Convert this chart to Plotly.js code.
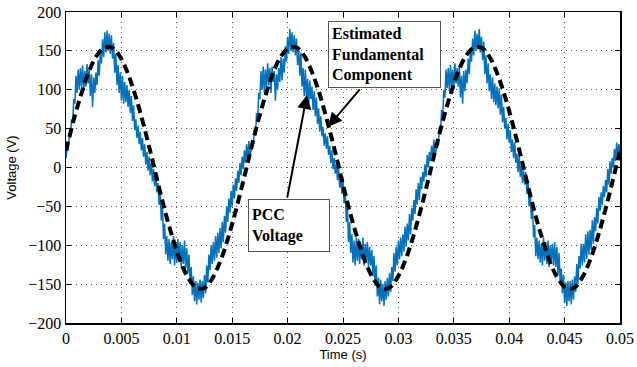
<!DOCTYPE html>
<html>
<head>
<meta charset="utf-8">
<script src="https://cdn.plot.ly/plotly-3.0.1.min.js"></script>
<style>html,body{margin:0;padding:0;background:#fff;}#chart{width:637px;height:367px;}</style>
</head>
<body>
<div id="chart"></div>
<script>
// PCC voltage samples (V), one every 0.1 ms from t = 0 to 0.05 s
const pccStep = 0.0001;
const pccCycle1 = [12,26,22,44,38,62,58,88,82,118,
 96,126,100,128,104,131,98,124,104,133,
 108,126,92,120,78,116,96,122,106,138,
 118,150,134,165,142,174,148,176,150,172,
 146,170,140,160,122,146,106,132,96,122,
 86,118,82,110,84,106,78,100,70,92,
 60,80,48,62,38,54,30,46,22,38,
 14,30,4,20,-4,14,-10,6,-18,-2,
 -24,-8,-32,-20,-48,-30,-68,-50,-92,-72,
 -112,-88,-120,-92,-124,-96,-118,-88,-126,-98,
 -122,-92,-120,-96,-128,-100,-124,-94,-130,-104,
 -136,-112,-150,-128,-164,-140,-172,-146,-176,-148,
 -170,-144,-174,-146,-168,-138,-162,-126,-148,-112,
 -132,-100,-124,-96,-120,-88,-116,-84,-110,-78,
 -104,-70,-96,-62,-84,-50,-70,-40,-58,-30,
 -50,-22,-40,-14,-30,-4,-20,6,-10,14,
 -2,22,6,30,10,34,14];
const pccCycle2 = [20,30,26,50,42,70,62,96,88,124,
 100,130,96,126,102,134,106,128,96,130,
 110,124,86,120,100,128,110,142,112,140,
 122,156,136,168,146,178,150,174,148,170,
 144,166,132,156,118,148,104,128,92,126,
 90,114,80,112,88,104,74,98,66,90,
 56,76,46,66,40,52,28,44,24,40,
 16,28,6,22,-2,12,-8,4,-16,0,
 -26,-10,-34,-18,-46,-28,-70,-52,-96,-70,
 -110,-86,-122,-94,-126,-90,-120,-92,-124,-100,
 -118,-90,-126,-98,-122,-96,-128,-102,-126,-106,
 -140,-114,-152,-126,-166,-142,-176,-144,-172,-150,
 -178,-146,-170,-142,-166,-136,-160,-128,-146,-110,
 -134,-102,-126,-94,-118,-90,-114,-86,-108,-76,
 -102,-72,-94,-60,-86,-52,-68,-42,-60,-28,
 -48,-20,-42,-12,-28,-6,-18,4,-12,16,
 0,20,8,28,12,36,16];
const pccCycle3 = [22,34,28,52,46,74,66,100,90,126,
 102,128,98,132,104,126,100,134,108,128,
 104,130,90,118,82,124,98,126,108,140,
 120,154,136,166,144,176,150,172,152,178,
 148,168,138,162,120,144,108,134,98,120,
 88,116,84,108,80,104,76,102,68,94,
 58,78,50,64,36,56,32,48,20,36,
 12,32,6,18,-6,16,-12,4,-20,-4,
 -22,-6,-34,-18,-50,-32,-66,-48,-90,-74,
 -114,-90,-118,-94,-122,-98,-126,-90,-120,-96,
 -124,-94,-128,-100,-120,-98,-126,-96,-128,-102,
 -138,-110,-148,-130,-162,-138,-174,-148,-178,-146,
 -172,-146,-176,-144,-170,-140,-160,-124,-150,-114,
 -130,-98,-126,-98,-122,-86,-118,-82,-112,-80,
 -106,-68,-98,-64,-82,-52,-72,-38,-56,-32,
 -48,-24,-38,-16,-32,-2,-22,8,-8,12,
 0,24,8,32,12,30,20];

// Estimated fundamental (V), one value every 0.05/72 s (24 per 60 Hz cycle)
const fundStep = 0.05 / 72;
const fundValues = [
 22,61,95,124,144,154,154,143,122,93,58,19,-22,-61,-95,-124,-144,-155,-155,-143,-122,-93,-58,-19,
 22,61,95,124,144,154,154,143,122,93,58,19,-22,-61,-95,-124,-144,-155,-155,-143,-122,-93,-58,-19,
 22,61,95,124,144,154,154,143,122,93,58,19,-22,-61,-95,-124,-144,-155,-155,-143,-122,-93,-58,-19,
 22];

const xTickVals = [0,0.005,0.01,0.015,0.02,0.025,0.03,0.035,0.04,0.045,0.05];
const xTickText = ['0','0.005','0.01','0.015','0.02','0.025','0.03','0.035','0.04','0.045','0.05'];
const yTickVals = [-200,-150,-100,-50,0,50,100,150,200];

const pccValues = pccCycle1.concat(pccCycle2, pccCycle3);
const pccTime = pccValues.map((_, i) => i * pccStep);
const fundTime = fundValues.map((_, i) => i * fundStep);

const traces = [
  {x: pccTime, y: pccValues, type: 'scatter', mode: 'lines', name: 'PCC Voltage',
   line: {color: '#0072BD', width: 1.5}},
  {x: fundTime, y: fundValues, type: 'scatter', mode: 'lines', name: 'Estimated Fundamental Component',
   line: {color: '#000000', width: 4, dash: '9px,5px', shape: 'spline'}}
];

const serif = 'Liberation Serif, Times New Roman, serif';
const sans = 'Liberation Sans, Arial, sans-serif';

const axisCommon = {
  showline: true, linecolor: '#000', linewidth: 1.5, mirror: 'ticks',
  ticks: 'inside', ticklen: 5, tickwidth: 1, tickcolor: '#000',
  showgrid: true, gridcolor: '#555', gridwidth: 1, griddash: '1px,4px',
  zeroline: false, tickfont: {family: serif, size: 16, color: '#000'}
};

const layout = {
  width: 637, height: 367,
  margin: {l: 66, r: 17, t: 12, b: 44},
  paper_bgcolor: '#fff', plot_bgcolor: '#fff',
  showlegend: false,
  xaxis: Object.assign({}, axisCommon, {
    range: [0, 0.05], tickmode: 'array', tickvals: xTickVals, ticktext: xTickText,
    title: {text: 'Time (s)', font: {family: sans, size: 13, color: '#000'}, standoff: 4}
  }),
  yaxis: Object.assign({}, axisCommon, {
    range: [-200, 200], tickmode: 'array', tickvals: yTickVals,
    title: {text: 'Voltage (V)', font: {family: sans, size: 13, color: '#000'}, standoff: 8}
  }),
  annotations: [
    {x: 0.023646, y: 188.4, xref: 'x', yref: 'y', xanchor: 'left', yanchor: 'top',
     text: 'Estimated<br>Fundamental<br>Component', align: 'left', showarrow: false,
     font: {family: serif, size: 16, color: '#000', weight: 'bold'},
     bordercolor: '#555', borderwidth: 1, borderpad: 3, bgcolor: '#fff',
     width: 105, height: 59},
    {x: 0.016426, y: -40.1, xref: 'x', yref: 'y', xanchor: 'left', yanchor: 'top',
     text: 'PCC<br>Voltage', align: 'left', showarrow: false,
     font: {family: serif, size: 16, color: '#000', weight: 'bold'},
     bordercolor: '#555', borderwidth: 1, borderpad: 3, bgcolor: '#fff',
     width: 74, height: 45},
    {x: 0.02365, y: 52.3, xref: 'x', yref: 'y', text: '', showarrow: true,
     ax: 33, ay: -39, arrowhead: 2, arrowsize: 1.4, arrowwidth: 2, arrowcolor: '#000'},
    {x: 0.02175, y: 93.4, xref: 'x', yref: 'y', text: '', showarrow: true,
     ax: -20, ay: 104, arrowhead: 2, arrowsize: 1.4, arrowwidth: 2, arrowcolor: '#000'}
  ]
};

Plotly.newPlot('chart', traces, layout, {staticPlot: true, displayModeBar: false});
</script>
</body>
</html>
